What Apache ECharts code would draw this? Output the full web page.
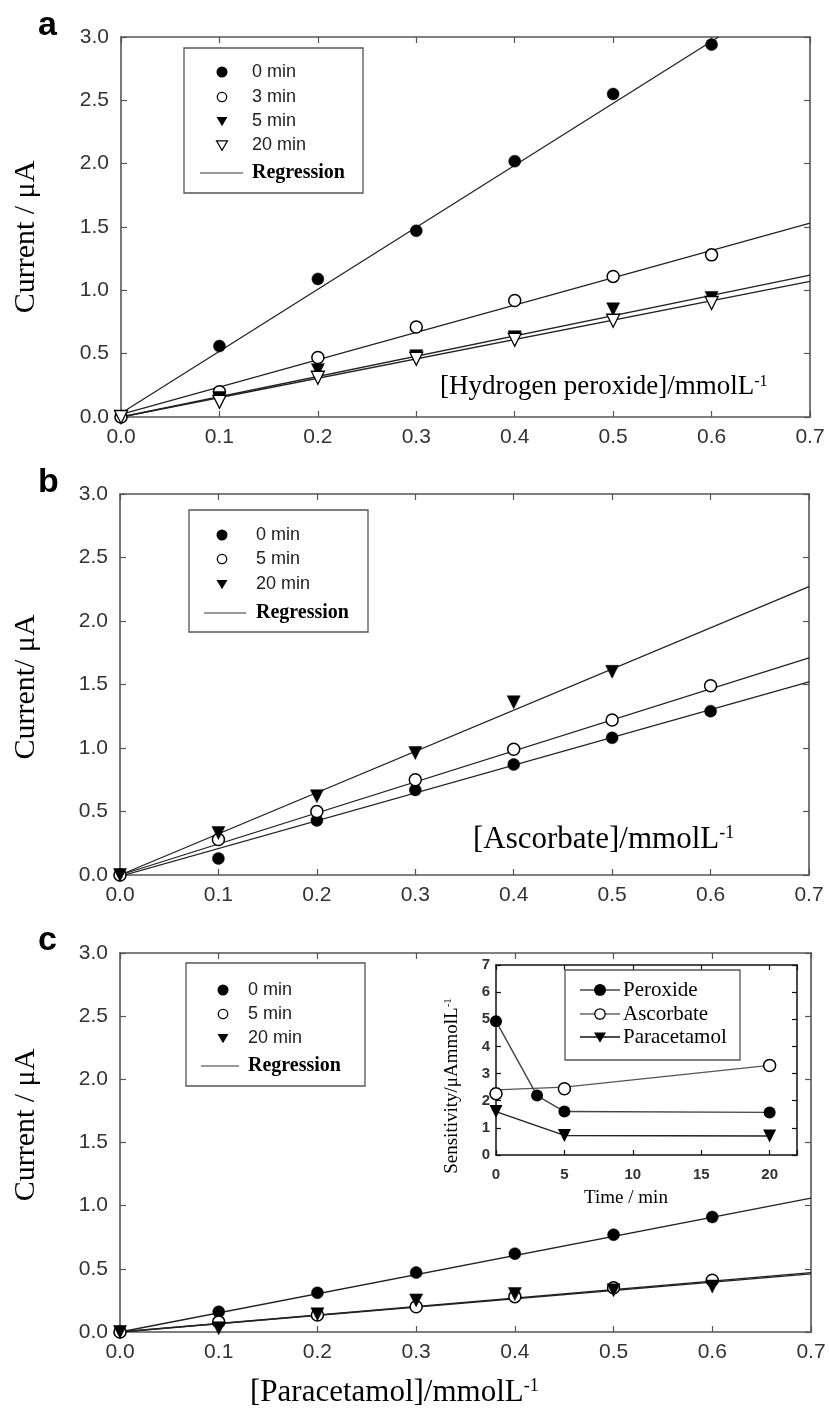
<!DOCTYPE html>
<html><head><meta charset="utf-8">
<script src="https://cdn.jsdelivr.net/npm/echarts@6/dist/echarts.min.js"></script>
<style>html,body{margin:0;padding:0;background:#fff}#c{width:829px;height:1414px}</style>
</head><body><div id="c"></div>
<script>
// ---------- data ----------
const conc = [0, 0.1, 0.2, 0.3, 0.4, 0.5, 0.6];
const xTicks = [0, 0.1, 0.2, 0.3, 0.4, 0.5, 0.6, 0.7];
const yTicks = [0, 0.5, 1.0, 1.5, 2.0, 2.5, 3.0];

// panel a: hydrogen peroxide
const perox0 = [0, 0.56, 1.09, 1.47, 2.02, 2.55, 2.94];
const perox3 = [0, 0.20, 0.47, 0.71, 0.92, 1.11, 1.28];
const perox5 = [0, 0.15, 0.37, 0.48, 0.63, 0.85, 0.94];
const perox20 = [0, 0.12, 0.31, 0.46, 0.61, 0.76, 0.90];
const regPerox0 = [[0, 0.03], [0.607, 3.0]];
const regPerox3 = [[0, 0.02], [0.7, 1.53]];
const regPerox5 = [[0, 0.0], [0.7, 1.12]];
const regPerox20 = [[0, 0.0], [0.7, 1.07]];

// panel b: ascorbate
const asc0 = [0, 0.13, 0.43, 0.67, 0.87, 1.08, 1.29];
const asc5 = [0, 0.28, 0.50, 0.75, 0.99, 1.22, 1.49];
const asc20 = [0, 0.33, 0.62, 0.96, 1.36, 1.60, null];
const regAsc0 = [[0, -0.01], [0.7, 1.52]];
const regAsc5 = [[0, 0.0], [0.7, 1.71]];
const regAsc20 = [[0, 0.0], [0.7, 2.27]];

// panel c: paracetamol
const para0 = [0, 0.16, 0.31, 0.47, 0.62, 0.77, 0.91];
const para5 = [0, 0.08, 0.135, 0.20, 0.28, 0.35, 0.41];
const para20 = [0, 0.03, 0.14, 0.25, 0.30, 0.33, 0.36];
const regPara0 = [[0, 0.0], [0.7, 1.06]];
const regPara5 = [[0, 0.0], [0.7, 0.47]];
const regPara20 = [[0, 0.0], [0.7, 0.46]];

// inset: sensitivity vs time
const timePerox = [0, 3, 5, 20];
const sensPerox = [4.93, 2.19, 1.60, 1.57];
const timeOther = [0, 5, 20];
const sensAsc = [2.26, 2.44, 3.30];
const sensAscLine = [2.40, 2.50, 3.30];
const sensPara = [1.60, 0.72, 0.70];

// ---------- helpers ----------
const SANS = '"Liberation Sans", Arial, sans-serif';
const SERIF = '"Liberation Serif", "Times New Roman", serif';
const pair = (xs, ys) => xs.map((x, i) => [x, ys[i]]).filter(p => p[1] !== null && p[1] !== undefined);

const grids = [
  {left: 121, top: 37, width: 689, height: 380},
  {left: 120, top: 494, width: 689, height: 381},
  {left: 120, top: 953, width: 691, height: 379},
  {left: 496, top: 965, width: 301, height: 190}
];

const xAxes = [], yAxes = [];
function mainAxes(g) {
  const line = {show: true, onZero: false, lineStyle: {color: '#555', width: 1.6}};
  const tick = {show: true, inside: true, length: 6, lineStyle: {color: '#555', width: 1.2}};
  ['bottom', 'top'].forEach((pos, k) => xAxes.push({
    type: 'value', gridIndex: g, position: pos, min: xTicks[0], max: xTicks[xTicks.length - 1], interval: 0.1,
    axisLine: line, axisTick: tick, splitLine: {show: false},
    axisLabel: {show: k === 0, formatter: v => v.toFixed(1), fontFamily: SANS, fontSize: 21, color: '#333', margin: 10}
  }));
  ['left', 'right'].forEach((pos, k) => yAxes.push({
    type: 'value', gridIndex: g, position: pos, min: yTicks[0], max: yTicks[yTicks.length - 1], interval: 0.5,
    axisLine: line, axisTick: tick, splitLine: {show: false},
    axisLabel: {show: k === 0, formatter: v => v.toFixed(1), fontFamily: SANS, fontSize: 21, color: '#333', margin: 12}
  }));
}
mainAxes(0); mainAxes(1); mainAxes(2);
(function insetAxes() {
  const line = {show: true, onZero: false, lineStyle: {color: '#111', width: 1.5}};
  const tick = {show: true, inside: true, length: 5, lineStyle: {color: '#111', width: 1.2}};
  ['bottom', 'top'].forEach((pos, k) => xAxes.push({
    type: 'value', gridIndex: 3, position: pos, min: 0, max: 22, interval: 5,
    axisLine: line, axisTick: tick, splitLine: {show: false},
    axisLabel: {show: k === 0, formatter: v => (v % 5 === 0 ? String(v) : ''), fontFamily: SANS, fontWeight: 'bold', fontSize: 15, color: '#333', margin: 12}
  }));
  ['left', 'right'].forEach((pos, k) => yAxes.push({
    type: 'value', gridIndex: 3, position: pos, min: 0, max: 7, interval: 1,
    axisLine: line, axisTick: tick, splitLine: {show: false},
    axisLabel: {show: k === 0, fontFamily: SANS, fontWeight: 'bold', fontSize: 15, color: '#333', margin: 6}
  }));
})();

const series = [];
function reg(ax, data) {
  series.push({type: 'line', xAxisIndex: ax, yAxisIndex: ax, data: data, symbol: 'none', clip: true, silent: true,
    lineStyle: {color: '#222', width: 1.3}, z: 2});
}
const styles = {
  fc: {symbol: 'circle', symbolRotate: 0, itemStyle: {color: '#000', borderColor: '#000', borderWidth: 0.5, opacity: 1}},
  oc: {symbol: 'circle', symbolRotate: 0, itemStyle: {color: '#fff', borderColor: '#000', borderWidth: 1.5, opacity: 1}},
  ft: {symbol: 'triangle', symbolRotate: 180, itemStyle: {color: '#000', borderColor: '#000', borderWidth: 0.5, opacity: 1}},
  ot: {symbol: 'triangle', symbolRotate: 180, itemStyle: {color: '#fff', borderColor: '#000', borderWidth: 1.3, opacity: 1}}
};
function pts(ax, name, ys, st) {
  const s = styles[st];
  series.push({type: 'scatter', name: name, xAxisIndex: ax, yAxisIndex: ax, data: pair(conc, ys),
    symbol: s.symbol, symbolRotate: s.symbolRotate, symbolSize: st[1] === 't' ? 13 : 12, itemStyle: s.itemStyle, z: 3});
}
// panel a
reg(0, regPerox0); reg(0, regPerox3); reg(0, regPerox5); reg(0, regPerox20);
pts(0, '0 min', perox0, 'fc'); pts(0, '3 min', perox3, 'oc'); pts(0, '5 min', perox5, 'ft'); pts(0, '20 min', perox20, 'ot');
// panel b
reg(2, regAsc0); reg(2, regAsc5); reg(2, regAsc20);
pts(2, '0 min', asc0, 'fc'); pts(2, '5 min', asc5, 'oc'); pts(2, '20 min', asc20, 'ft');
// panel c
reg(4, regPara0); reg(4, regPara5); reg(4, regPara20);
pts(4, '0 min', para0, 'fc'); pts(4, '5 min', para5, 'oc'); pts(4, '20 min', para20, 'ft');
// inset
series.push({type: 'line', name: 'Peroxide', xAxisIndex: 6, yAxisIndex: 6, data: pair(timePerox, sensPerox),
  symbol: 'circle', symbolSize: 12, itemStyle: {color: '#000', opacity: 1}, lineStyle: {color: '#444', width: 1.4}, z: 3});
series.push({type: 'line', xAxisIndex: 6, yAxisIndex: 6, data: pair(timeOther, sensAscLine),
  symbol: 'none', lineStyle: {color: '#555', width: 1.4}, z: 2});
series.push({type: 'scatter', name: 'Ascorbate', xAxisIndex: 6, yAxisIndex: 6, data: pair(timeOther, sensAsc),
  symbol: 'circle', symbolSize: 12, itemStyle: {color: '#fff', borderColor: '#000', borderWidth: 1.5, opacity: 1}, z: 3});
series.push({type: 'line', name: 'Paracetamol', xAxisIndex: 6, yAxisIndex: 6, data: pair(timeOther, sensPara),
  symbol: 'triangle', symbolRotate: 180, symbolSize: 13, itemStyle: {color: '#000', opacity: 1}, lineStyle: {color: '#222', width: 1.4}, z: 3});

// ---------- graphics (labels, legends) ----------
const G = [];
function txt(x, y, text, font, opts) {
  G.push(Object.assign({type: 'text', x: x, y: y, z: 100,
    style: Object.assign({text: text, font: font, fill: '#000', align: 'left', verticalAlign: 'middle'}, (opts && opts.style) || {})},
    opts && opts.rotation !== undefined ? {rotation: opts.rotation} : {}));
}
// panel letters
txt(38, 26, 'a', 'bold 34px ' + SANS);
txt(38, 483, 'b', 'bold 34px ' + SANS);
txt(38, 941, 'c', 'bold 34px ' + SANS);
// y titles
txt(26, 237, 'Current / μA', '30px ' + SERIF, {rotation: Math.PI / 2, style: {align: 'center'}});
txt(26, 687, 'Current/ μA', '30px ' + SERIF, {rotation: Math.PI / 2, style: {align: 'center'}});
txt(26, 1125, 'Current / μA', '30px ' + SERIF, {rotation: Math.PI / 2, style: {align: 'center'}});
// x titles with superscripts
function supText(x, y, main, size, opts) {
  G.push(Object.assign({type: 'text', x: x, y: y, z: 100,
    style: {text: main + '{s|-1}', fontFamily: SERIF, fontSize: size, fill: '#000', align: (opts && opts.align) || 'left', verticalAlign: 'middle',
      rich: {s: {fontFamily: SERIF, fontSize: Math.round(size * 0.58), fill: '#000', verticalAlign: 'top'}}}},
    opts && opts.rotation !== undefined ? {rotation: opts.rotation} : {}));
}
supText(440, 387, '[Hydrogen peroxide]/mmolL', 27);
supText(473, 840, '[Ascorbate]/mmolL', 31);
supText(250, 1393, '[Paracetamol]/mmolL', 31);
supText(452, 1086, 'Sensitivity/μAmmolL', 19, {rotation: Math.PI / 2, align: 'center'});
txt(626, 1198, 'Time / min', '19px ' + SERIF, {style: {align: 'center'}});

// legend symbols
function sym(kind, cx, cy, r) {
  if (kind === 'fc') G.push({type: 'circle', z: 101, shape: {cx: cx, cy: cy, r: r}, style: {fill: '#000'}});
  if (kind === 'oc') G.push({type: 'circle', z: 101, shape: {cx: cx, cy: cy, r: r - 0.8}, style: {fill: '#fff', stroke: '#000', lineWidth: 1.3}});
  if (kind === 'ft' || kind === 'ot') G.push({type: 'polygon', z: 101,
    shape: {points: [[cx - r, cy - r * 0.75], [cx + r, cy - r * 0.75], [cx, cy + r * 0.95]]},
    style: kind === 'ft' ? {fill: '#000'} : {fill: '#fff', stroke: '#000', lineWidth: 1.2}});
}
function mainLegend(box, mx, tx, rows, regY, lx1, lx2) {
  G.push({type: 'rect', z: 99, shape: {x: box[0], y: box[1], width: box[2], height: box[3]}, style: {fill: '#fff', stroke: '#555', lineWidth: 1.3}});
  rows.forEach(r => { sym(r[0], mx, r[2], 5.5); txt(tx, r[2], r[1], '18px ' + SANS, {style: {fill: '#222'}}); });
  G.push({type: 'line', z: 101, shape: {x1: lx1, y1: regY, x2: lx2, y2: regY}, style: {stroke: '#777', lineWidth: 1.5}});
  txt(tx, regY, 'Regression', 'bold 20px ' + SERIF);
}
mainLegend([184, 48, 179, 145], 222, 252, [['fc', '0 min', 72], ['oc', '3 min', 97], ['ft', '5 min', 121], ['ot', '20 min', 145]], 173, 200, 243);
mainLegend([189, 510, 179, 122], 222, 256, [['fc', '0 min', 535], ['oc', '5 min', 559], ['ft', '20 min', 584]], 613, 204, 246);
mainLegend([186, 963, 179, 123], 223, 248, [['fc', '0 min', 990], ['oc', '5 min', 1014], ['ft', '20 min', 1038]], 1066, 201, 239);

// inset legend
G.push({type: 'rect', z: 99, shape: {x: 565, y: 970, width: 175, height: 90}, style: {fill: '#fff', stroke: '#555', lineWidth: 1.3}});
[['fc', 'Peroxide', 990, '#444'], ['oc', 'Ascorbate', 1014, '#666'], ['ft', 'Paracetamol', 1037, '#111']].forEach(r => {
  G.push({type: 'line', z: 100, shape: {x1: 580, y1: r[2], x2: 620, y2: r[2]}, style: {stroke: r[3], lineWidth: 1.5}});
  sym(r[0], 600, r[2], 6);
  txt(623, r[2], r[1], '21px ' + SERIF);
});

const chart = echarts.init(document.getElementById('c'), null, {renderer: 'canvas'});
chart.setOption({
  animation: false,
  backgroundColor: '#fff',
  grid: grids.map(g => Object.assign({containLabel: false}, g)),
  xAxis: xAxes,
  yAxis: yAxes,
  series: series,
  graphic: {elements: G}
});
</script></body></html>
